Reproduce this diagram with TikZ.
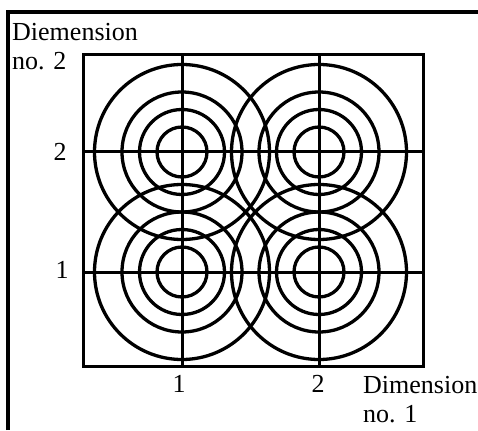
\documentclass[tikz,border=0pt]{standalone}
\usepackage{fontspec}
\setmainfont{Liberation Serif}
\begin{document}
\begin{tikzpicture}[x=1pt,y=-1pt,
  lbl/.style={inner sep=0pt,font=\fontsize{26}{30}\selectfont},
  ring/.style={line width=3.3pt},
  gridline/.style={line width=3pt},
  frameline/.style={line width=3.3pt}]
\useasboundingbox (0,0) rectangle (478,430);
% outer frame (top and left)
\draw[frameline] (8,430) -- (8,12) -- (478,12);
% inner square
\draw[line width=3pt] (83,55) rectangle (423,366);
% circles
\foreach \cx/\cy in {182/152,319/152,182/272,319/272}{
  \foreach \r in {25,42.5,60,87.5}{
    \draw[ring] (\cx,\cy) circle[radius=\r];
  }
}
% grid lines
\draw[gridline] (182,55) -- (182,366);
\draw[gridline] (319,55) -- (319,366);
\draw[gridline] (83,152) -- (423,152);
\draw[gridline] (83,272) -- (423,272);
% labels
\node[lbl,anchor=base west] (d2a) at (12,40.5) {Diemension};
\node[lbl,anchor=base west] (d2b) at (12,70) {no. 2};
\node[lbl,anchor=center,text depth=0pt] (y2) at (60,152) {2};
\node[lbl,anchor=center,text depth=0pt] (y1) at (62,270) {1};
\node[lbl,anchor=base] (x1) at (179,392) {1};
\node[lbl,anchor=base] (x2) at (318,392) {2};
\node[lbl,anchor=base west] (d1a) at (363,393) {Dimension};
\node[lbl,anchor=base west] (d1b) at (363,422) {no. 1};
\end{tikzpicture}
\end{document}
